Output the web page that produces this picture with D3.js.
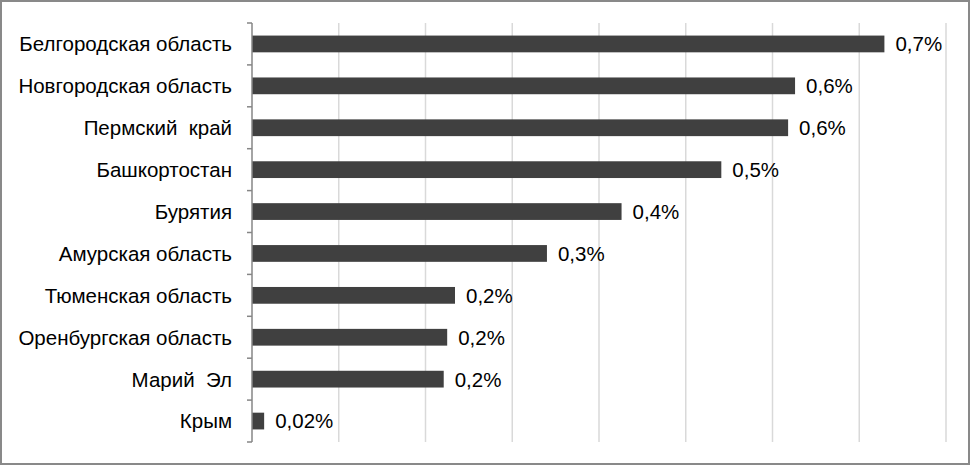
<!DOCTYPE html>
<html><head><meta charset="utf-8">
<script src="https://cdn.jsdelivr.net/npm/d3@7"></script>
<style>body{margin:0;background:#fff}svg{display:block}</style>
</head><body>
<script>
const categories = ["Белгородская область","Новгородская область","Пермский  край","Башкортостан","Бурятия","Амурская область","Тюменская область","Оренбургская область","Марий  Эл","Крым"];
const values = [0.729,0.626,0.618,0.541,0.426,0.340,0.234,0.225,0.221,0.014];
const valueLabels = ["0,7%","0,6%","0,6%","0,5%","0,4%","0,3%","0,2%","0,2%","0,2%","0,02%"];
const gridTicks = [0.1,0.2,0.3,0.4,0.5,0.6,0.7,0.8];

(function(){
const W=971,H=466;
const svg=d3.select("body").append("svg").attr("width",W).attr("height",H);
svg.append("rect").attr("x",1).attr("y",1).attr("width",W-3).attr("height",H-3)
  .attr("fill","#fff").attr("stroke","#898989").attr("stroke-width",2);

const pL=252,pR=946,pT=23,pB=442;
const x=d3.scaleLinear().domain([0,0.8]).range([pL,pR]);
const y=d3.scaleBand().domain(categories).range([pT,pB]).paddingInner(0.6).paddingOuter(0.3);

svg.append("g").selectAll("line").data(gridTicks).join("line")
  .attr("x1",d=>x(d)).attr("x2",d=>x(d)).attr("y1",pT).attr("y2",pB)
  .attr("stroke","#d9d9d9").attr("stroke-width",1.5);

svg.append("g").selectAll("rect").data(categories).join("rect")
  .attr("x",x(0)).attr("y",d=>y(d)).attr("height",y.bandwidth())
  .attr("width",(d,i)=>x(values[i])-x(0)).attr("fill","#404040");

const ax=svg.append("g").attr("stroke","#868686").attr("stroke-width",1.5);
ax.append("line").attr("x1",pL).attr("x2",pL).attr("y1",pT).attr("y2",pB);
const bandStep=(pB-pT)/categories.length;
ax.selectAll("line.t").data(d3.range(categories.length+1)).join("line").attr("class","t")
  .attr("x1",pL-5).attr("x2",pL).attr("y1",i=>pT+i*bandStep).attr("y2",i=>pT+i*bandStep);

const fs=20.5;
svg.append("g").selectAll("text").data(categories).join("text")
  .attr("x",232).attr("y",d=>y(d)+y.bandwidth()/2).attr("dy","0.36em")
  .attr("text-anchor","end").attr("font-family","Liberation Sans, Arial, sans-serif")
  .attr("font-size",fs).attr("fill","#000").style("white-space","pre").text(d=>d);

svg.append("g").selectAll("text").data(categories).join("text")
  .attr("x",(d,i)=>x(values[i])+11).attr("y",d=>y(d)+y.bandwidth()/2).attr("dy","0.36em")
  .attr("font-family","Liberation Sans, Arial, sans-serif")
  .attr("font-size",fs).attr("fill","#000").text((d,i)=>valueLabels[i]);
})();
</script>
</body></html>
